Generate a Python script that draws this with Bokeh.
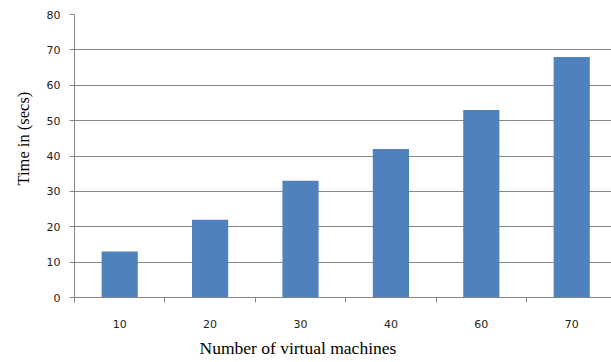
from bokeh.plotting import figure
from bokeh.models import FixedTicker, Range1d, Title, ColumnDataSource
from bokeh.embed import file_html
from bokeh.resources import INLINE

# Execution time per number of virtual machines
machines = ["10", "20", "30", "40", "60", "70"]
times = [13, 22, 33, 42, 53, 68]

y_ticks = [0, 10, 20, 30, 40, 50, 60, 70, 80]

xpos = [i + 0.5 for i in range(len(machines))]
src = ColumnDataSource(data=dict(x=xpos, top=times, name=machines))

GRAY = "#868686"
BAR = "#4F81BD"

p = figure(width=611, height=362, output_backend="svg", toolbar_location=None,
           x_range=Range1d(0, 5.94), y_range=Range1d(0, 80),
           min_border_left=73, min_border_right=0, min_border_top=14,
           min_border_bottom=65)
p.outline_line_color = None
p.background_fill_color = "white"
p.border_fill_color = "white"

p.vbar(x="x", top="top", width=0.4, bottom=0, source=src,
       fill_color=BAR, line_color=None)

# x axis: labels centred in each category, tick marks on the boundaries
p.xaxis.ticker = FixedTicker(ticks=xpos, minor_ticks=list(range(len(machines) + 1)))
p.xaxis.major_label_overrides = {x: m for x, m in zip(xpos, machines)}
p.xaxis.major_tick_out = 0
p.xaxis.major_tick_in = 0
p.xaxis.minor_tick_out = 5
p.xaxis.minor_tick_in = 0
p.xaxis.minor_tick_line_color = GRAY
p.xaxis.axis_line_color = GRAY
p.xaxis.major_label_standoff = 17
p.xaxis.major_label_text_font = "DejaVu Sans"
p.xaxis.major_label_text_font_size = "11px"
p.xaxis.major_label_text_color = "#222222"

p.yaxis.ticker = FixedTicker(ticks=y_ticks)
p.yaxis.minor_tick_line_color = None
p.yaxis.major_tick_out = 5
p.yaxis.major_tick_in = 0
p.yaxis.major_tick_line_color = GRAY
p.yaxis.axis_line_color = GRAY
p.yaxis.major_label_standoff = 9
p.yaxis.major_label_text_font = "DejaVu Sans"
p.yaxis.major_label_text_font_size = "11px"
p.yaxis.major_label_text_color = "#222222"

p.xgrid.grid_line_color = None
p.ygrid.ticker = FixedTicker(ticks=y_ticks)
p.ygrid.grid_line_color = GRAY
p.ygrid.grid_line_width = 1

# axis titles as side panels, start-aligned and shifted along the axis
p.add_layout(Title(text="Number of virtual machines", align="left", offset=125,
                   standoff=10, text_font="Liberation Serif", text_font_size="17.5px",
                   text_font_style="normal", text_color="#000000"), "below")
p.add_layout(Title(text="Time in (secs)", align="left", offset=112,
                   standoff=22, text_font="Liberation Serif", text_font_size="16.5px",
                   text_font_style="normal", text_color="#000000"), "left")

open("out.html", "w").write(file_html(p, INLINE))
